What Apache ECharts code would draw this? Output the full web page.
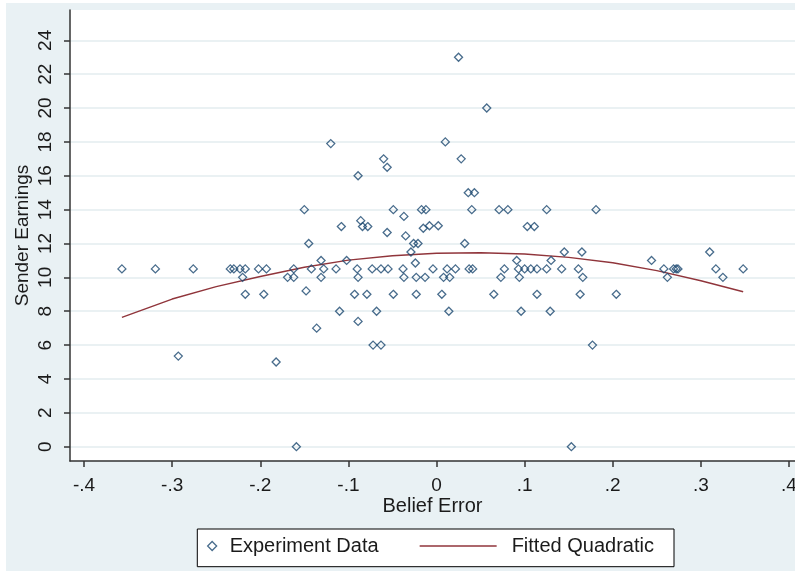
<!DOCTYPE html>
<html><head><meta charset="utf-8">
<script src="https://cdn.jsdelivr.net/npm/echarts@6/dist/echarts.min.js"></script>
<style>html,body{margin:0;padding:0;background:#fff;} #c{position:absolute;left:6px;top:3px;width:789px;height:568px;}</style>
</head><body><div id="c"></div>
<script>
// Experiment data
const beliefError = [-0.357,-0.319,-0.276,-0.293,-0.234,-0.230,-0.223,-0.217,-0.202,-0.193,-0.220,-0.217,-0.196,-0.182,-0.169,-0.162,-0.162,-0.159,-0.150,-0.145,-0.148,-0.142,-0.136,-0.131,-0.131,-0.128,-0.120,-0.114,-0.110,-0.108,-0.102,-0.093,-0.090,-0.089,-0.089,-0.089,-0.086,-0.084,-0.078,-0.079,-0.073,-0.072,-0.068,-0.063,-0.063,-0.060,-0.056,-0.056,-0.055,-0.049,-0.049,-0.038,-0.037,-0.037,-0.035,-0.029,-0.026,-0.021,-0.024,-0.023,-0.023,-0.017,-0.012,-0.015,-0.013,-0.008,-0.004,0.002,0.006,0.008,0.010,0.012,0.015,0.014,0.0215,0.025,0.028,0.032,0.036,0.043,0.040,0.037,0.041,0.057,0.065,0.071,0.081,0.073,0.077,0.091,0.093,0.094,0.096,0.100,0.103,0.111,0.107,0.114,0.114,0.125,0.125,0.129,0.130,0.142,0.145,0.153,0.161,0.163,0.165,0.166,0.177,0.181,0.204,0.244,0.258,0.262,0.269,0.272,0.274,0.310,0.317,0.325,0.348];
const senderEarnings = [10.5,10.5,10.5,5.35,10.5,10.5,10.5,10.5,10.5,10.5,10,9,9,5,10,10,10.5,0,14,12,9.2,10.5,7,11,10,10.5,17.9,10.5,8,13,11,9,10.5,10,7.4,16,13.35,13,13,9,10.5,6,8,10.5,6,17,16.5,12.65,10.5,14,9,10.5,10,13.6,12.45,11.5,12,12,10.85,10,9,14,14,12.9,10,13.05,10.5,13.05,9,10,18,10.5,10,8,10.5,23,17,12,15,15,14,10.5,10.5,20,9,14,14,10,10.5,11,10.5,10,8,10.5,13,13,10.5,10.5,9,14,10.5,8,11,10.5,11.5,0,10.5,9,11.5,10,6,14,9,11,10.5,10,10.5,10.5,10.5,11.5,10.5,10,10.5];
// Fitted quadratic
const fitX = [-0.357,-0.30,-0.25,-0.20,-0.15,-0.10,-0.05,0,0.05,0.10,0.15,0.20,0.25,0.30,0.348];
const fitY = [7.64,8.72,9.45,10.05,10.6,11.02,11.28,11.42,11.45,11.38,11.18,10.86,10.4,9.8,9.15];
// Ticks
const xTickValues = [-0.4,-0.3,-0.2,-0.1,0,0.1,0.2,0.3,0.4];
const xTickLabels = ['-.4','-.3','-.2','-.1','0','.1','.2','.3','.4'];
const yTickValues = [0,2,4,6,8,10,12,14,16,18,20,22,24];
const yTickLabels = ['0','2','4','6','8','10','12','14','16','18','20','22','24'];

function labelFor(vals, labels, v){
  const i = vals.findIndex(t => Math.abs(t - v) < 1e-9);
  return i >= 0 ? labels[i] : '';
}
const FONT = "'Liberation Sans', Arial, sans-serif";
const TXT = '#1b1b1b';
const AX = '#333333';
const FIT = '#90353b';
const chart = echarts.init(document.getElementById('c'), null, {renderer:'canvas'});
const option = {
  backgroundColor: '#e9f1f4',
  animation: false,
  textStyle: {fontFamily: FONT},
  grid: {left: 64, right: 0, top: 7, bottom: 110, show: true, backgroundColor: '#ffffff', borderWidth: 0, containLabel: false, outerBoundsMode: 'none'},
  xAxis: {
    type: 'value', min: -0.4159, max: 0.4068,
    name: 'Belief Error', nameLocation: 'middle', nameGap: 35, nameMoveOverlap: false,
    nameTextStyle: {fontSize: 20, color: TXT, fontFamily: FONT},
    axisLine: {show: true, onZero: false, lineStyle: {color: AX, width: 1.5}},
    axisTick: {show: true, length: 6, customValues: xTickValues, lineStyle: {color: AX, width: 1.5}},
    axisLabel: {customValues: xTickValues, formatter: v => labelFor(xTickValues, xTickLabels, v), fontSize: 19, color: TXT, margin: 15, fontFamily: FONT},
    splitLine: {show: false}
  },
  yAxis: {
    type: 'value', min: -0.845, max: 25.79,
    name: 'Sender Earnings', nameLocation: 'middle', nameGap: 38, nameMoveOverlap: false,
    nameTextStyle: {fontSize: 19, color: TXT, fontFamily: FONT},
    axisLine: {show: true, onZero: false, lineStyle: {color: AX, width: 1.5}},
    axisTick: {show: true, length: 6, customValues: yTickValues, lineStyle: {color: AX, width: 1.5}},
    axisLabel: {customValues: yTickValues, formatter: v => labelFor(yTickValues, yTickLabels, v), rotate: 90, fontSize: 19, color: TXT, margin: 15, fontFamily: FONT},
    splitLine: {show: true, lineStyle: {color: '#e3ecef', width: 1.5}}
  },
  legend: [
    {data: [{name: 'Experiment Data', icon: 'diamond'}], left: 201, top: 533, padding: 0, selectedMode: false,
     itemWidth: 9, itemHeight: 9,
     itemStyle: {color: 'rgba(0,0,0,0)', borderColor: '#1a476f', borderWidth: 1.3},
     textStyle: {fontSize: 20, color: TXT, fontFamily: FONT, padding: [0,0,0,8]}},
    {data: ['Fitted Quadratic'], left: 413, top: 533, padding: 0, selectedMode: false,
     itemWidth: 77, itemHeight: 10,
     itemStyle: {opacity: 0, color: 'rgba(0,0,0,0)', borderWidth: 0},
     lineStyle: {color: FIT, width: 1.3},
     textStyle: {fontSize: 20, color: TXT, fontFamily: FONT, padding: [0,0,0,10]}}
  ],
  graphic: [{type: 'rect', z: 1, shape: {x: 191.3, y: 526, width: 476.7, height: 37.7}, style: {fill: '#ffffff', stroke: '#000000', lineWidth: 1}}],
  series: [
    {type: 'scatter', name: 'Experiment Data', z: 3,
     data: beliefError.map((x, i) => [x, senderEarnings[i]]),
     symbol: 'diamond', symbolSize: 8,
     itemStyle: {color: 'rgba(0,0,0,0)', borderColor: '#1a476f', borderWidth: 1.3},
     emphasis: {disabled: true}},
    {type: 'line', name: 'Fitted Quadratic', z: 2,
     data: fitX.map((x, i) => [x, fitY[i]]),
     symbol: 'none', showSymbol: false, itemStyle: {color: FIT},
     lineStyle: {color: FIT, width: 1.4}, emphasis: {disabled: true}}
  ]
};
chart.setOption(option);
</script></body></html>
